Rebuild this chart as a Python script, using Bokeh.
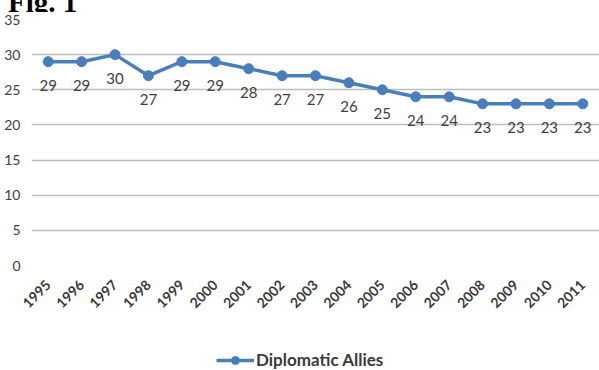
import math
from bokeh.plotting import figure
from bokeh.layouts import column
from bokeh.models import ColumnDataSource, Legend, LegendItem, LabelSet, Div
from bokeh.core.properties import value
from bokeh.embed import file_html
from bokeh.resources import INLINE

years = ["1995", "1996", "1997", "1998", "1999", "2000", "2001", "2002", "2003",
         "2004", "2005", "2006", "2007", "2008", "2009", "2010", "2011"]
allies = [29, 29, 30, 27, 29, 29, 28, 27, 27, 26, 25, 24, 24, 23, 23, 23, 23]
y_ticks = [0, 5, 10, 15, 20, 25, 30, 35]
series_name = "Diplomatic Allies"
heading = "Fig. 1"

BLUE = "#4a7ebb"
FONT = "Lato"

# heading strip: only the lower part of the caption is shown
head = Div(text=f'<div style="font: bold 29px \'Liberation Serif\', serif; '
                f'line-height: 29px; margin: -20px 0 0 8px; color: black; '
                f'white-space: nowrap;">{heading}</div>',
           width=599, height=12, margin=0, styles={"overflow": "hidden"})

src = ColumnDataSource(dict(year=years, val=allies, lab=[str(v) for v in allies]))

p = figure(x_range=years, y_range=(0, 35), width=599, height=328,
           output_backend="svg", toolbar_location=None,
           min_border_left=31, min_border_right=0, min_border_top=7,
           min_border_bottom=75)
p.outline_line_color = None
p.background_fill_color = "white"
p.border_fill_color = "white"

p.xgrid.grid_line_color = None
p.ygrid.grid_line_color = "#bdbdbd"
p.ygrid.grid_line_width = 1.5
p.yaxis.ticker = y_ticks

p.yaxis.axis_line_color = None
p.yaxis.major_tick_line_color = None
p.yaxis.minor_tick_line_color = None
p.yaxis.major_label_text_font = FONT
p.yaxis.major_label_text_font_size = "14px"
p.yaxis.major_label_text_color = "#404040"
p.yaxis.major_label_standoff = 5

p.xaxis.axis_line_color = None
p.xaxis.major_tick_line_color = None
p.xaxis.minor_tick_line_color = None
p.xaxis.major_label_orientation = math.pi / 4
p.xaxis.major_label_text_font = FONT
p.xaxis.major_label_text_font_style = "bold"
p.xaxis.major_label_text_font_size = "14px"
p.xaxis.major_label_text_color = "#3a3a3a"
p.xaxis.major_label_standoff = 11

line = p.line("year", "val", source=src, line_color=BLUE, line_width=3.5)
dots = p.scatter("year", "val", source=src, size=10, fill_color=BLUE,
                 line_color=BLUE)

labels = LabelSet(x="year", y="val", text="lab", source=src,
                  text_align="center", text_baseline="middle", y_offset=-24,
                  text_font=value(FONT), text_font_size="15px",
                  text_color="#404040")
p.add_layout(labels)

# legend strip under the chart; its series sits outside the strip's view
leg = figure(x_range=years, y_range=(0, 1), width=599, height=30,
             output_backend="svg", toolbar_location=None,
             x_axis_type=None, y_axis_type=None, min_border=0)
leg.outline_line_color = None
leg.xgrid.grid_line_color = None
leg.ygrid.grid_line_color = None
leg_line = leg.line("year", "val", source=src, line_color=BLUE, line_width=3.5)
leg_dot = leg.scatter("year", "val", source=src, size=10, fill_color=BLUE,
                      line_color=BLUE)
legend = Legend(items=[LegendItem(label=series_name, renderers=[leg_line, leg_dot])],
                location=(185, 0), orientation="horizontal",
                label_text_font=FONT, label_text_font_style="bold",
                label_text_font_size="17px",
                label_text_color="#3a3a3a", border_line_color=None,
                background_fill_alpha=0, glyph_width=38, glyph_height=20,
                label_standoff=2, padding=0, margin=0)
leg.add_layout(legend)

page = column(head, p, leg, spacing=0)
open("out.html", "w").write(file_html(page, INLINE))
